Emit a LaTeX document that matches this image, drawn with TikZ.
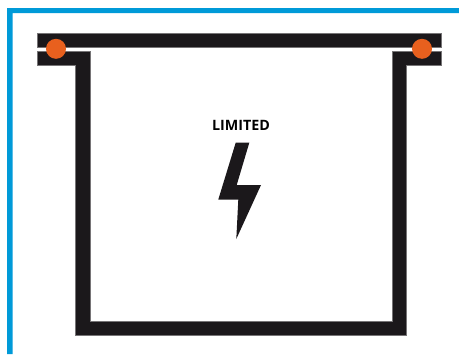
\documentclass[tikz,border=0pt]{standalone}
\usepackage{fontspec}
\setmainfont{Open Sans}
\definecolor{frameblue}{HTML}{009AD8}
\definecolor{wallblack}{HTML}{1B181B}
\definecolor{pinorange}{HTML}{E8601E}

\begin{document}
\begin{tikzpicture}[
      x=0.75pt,y=-0.75pt,
      frame/.style={fill=frameblue},
      wall/.style={fill=wallblack,draw=wallblack!60,line width=0.3pt},
      pin/.style={circle,fill=pinorange,inner sep=0pt,minimum size=15pt},
      tag/.style={font=\bfseries\fontsize{10.7}{12}\selectfont,text=black,inner sep=0pt}]
      \useasboundingbox (0,0) rectangle (459,354);
      % outer frame
      \fill[frame] (7,354)--(7,8)--(459,8)--(459,13.2)--(12.5,13.2)--(12.5,354)--cycle;
      % vessel
      \draw[wall] (37.5,33.5) rectangle (441.5,47.5);
      \draw[wall] (37.5,51)--(90,51)--(90,321)--(392,321)--(392,51)--(441.5,51)
        --(441.5,65.5)--(406,65.5)--(406,335)--(75.5,335)--(75.5,65.5)--(37.5,65.5)--cycle;
      \node[pin] (pinL) at (56,48.8) {};
      \node[pin] (pinR) at (422,48.8) {};
      \node[tag] (limited) at (241,125.5) {LIMITED};
      % bolt
      \fill[wallblack] (235.7,142.7)--(249.3,142.7)--(236.7,185)--(261,185)
        --(236.3,239)--(238.3,199.5)--(218.3,199.5)--cycle;
    \end{tikzpicture}
\end{document}
